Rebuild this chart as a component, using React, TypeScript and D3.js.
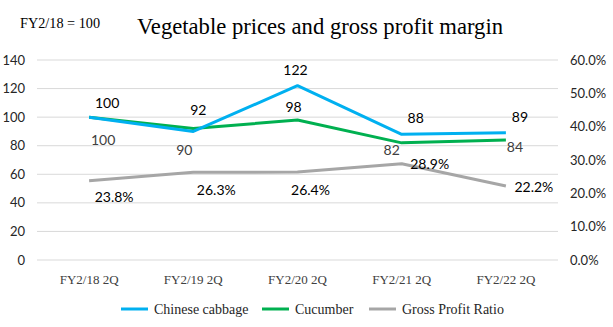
import React from "react";
import * as d3 from "d3";

const categories = ["FY2/18 2Q", "FY2/19 2Q", "FY2/20 2Q", "FY2/21 2Q", "FY2/22 2Q"];
const cabbage = [100, 90, 122, 88, 89];
const cucumber = [100, 92, 98, 82, 84];
const grossProfit = [23.8, 26.3, 26.4, 28.9, 22.2];
const leftTicks = [0, 20, 40, 60, 80, 100, 120, 140];
const rightTicks = [0, 10, 20, 30, 40, 50, 60];

// label placement offsets (layout only)
const cabbageLabelOff = [[14, 23], [-9, 19], [-2, -16], [14, -16], [14, -16]];
const cucumberLabelOff = [[18, -14], [5, -18], [-4, -13], [-10, 7], [9, 7]];
const gpLabelOff = [[25, 16], [23, 18], [13, 18], [28, 0], [28, 1]];

const W = 613, H = 327;
const plotL = 37, plotR = 558, plotT = 60, plotB = 260;

export default function App() {
  const x = d3.scaleBand<string>().domain(categories).range([plotL, plotR]);
  const cx = (i: number) => (x(categories[i]) as number) + x.bandwidth() / 2;
  const yL = d3.scaleLinear().domain([0, 140]).range([plotB, plotT]);
  const yR = d3.scaleLinear().domain([0, 60]).range([plotB, plotT]);

  const lineL = d3.line<number>().x((_, i) => cx(i)).y((d) => yL(d));
  const lineR = d3.line<number>().x((_, i) => cx(i)).y((d) => yR(d));

  const sans = "Lato, Open Sans, Liberation Sans, sans-serif";
  const serif = "Liberation Serif, Times New Roman, serif";

  const legend = [
    { name: "Chinese cabbage", color: "#00B0F0", x: 121 },
    { name: "Cucumber", color: "#00B050", x: 262 },
    { name: "Gross Profit Ratio", color: "#A6A6A6", x: 369 },
  ];

  return (
    <svg width={W} height={H} style={{ position: "absolute", left: 0, top: 0 }}>
      <rect width={W} height={H} fill="#fff" />
      <text x={20} y={28} fontFamily={serif} fontSize={14} textLength={80} lengthAdjust="spacingAndGlyphs" fill="#000">FY2/18 = 100</text>
      <text x={137} y={34} fontFamily={serif} fontSize={23} textLength={366} lengthAdjust="spacingAndGlyphs" fill="#000">Vegetable prices and gross profit margin</text>

      {leftTicks.map((t) => (
        <line key={"g" + t} x1={plotL} x2={plotR} y1={yL(t)} y2={yL(t)} stroke="#d9d9d9" strokeWidth={1} />
      ))}
      {leftTicks.map((t) => (
        <text key={"l" + t} x={25} y={yL(t)} dy="0.35em" textAnchor="end" fontFamily={sans} fontSize={13} fill="#262626">{t}</text>
      ))}
      {rightTicks.map((t) => (
        <text key={"r" + t} x={570} y={yR(t)} dy="0.35em" textAnchor="start" fontFamily={sans} fontSize={13} fill="#262626">{t.toFixed(1) + "%"}</text>
      ))}
      {categories.map((c, i) => (
        <text key={c} x={cx(i)} y={279} dy="0.35em" textAnchor="middle" fontFamily={serif} fontSize={13} fill="#404040">{c}</text>
      ))}

      <path d={lineR(grossProfit) || ""} fill="none" stroke="#A6A6A6" strokeWidth={3} strokeLinejoin="round" />
      <path d={lineL(cucumber) || ""} fill="none" stroke="#00B050" strokeWidth={3} strokeLinejoin="round" />
      <path d={lineL(cabbage) || ""} fill="none" stroke="#00B0F0" strokeWidth={3} strokeLinejoin="round" />

      {cabbage.map((v, i) => (
        <text key={"cb" + i} x={cx(i) + cabbageLabelOff[i][0]} y={yL(v) + cabbageLabelOff[i][1]} dy="0.35em" textAnchor="middle" fontFamily={sans} fontSize={14} fill={cabbageLabelOff[i][1] > 0 ? "#404040" : "#000"}>{v}</text>
      ))}
      {cucumber.map((v, i) => (
        <text key={"cu" + i} x={cx(i) + cucumberLabelOff[i][0]} y={yL(v) + cucumberLabelOff[i][1]} dy="0.35em" textAnchor="middle" fontFamily={sans} fontSize={14} fill={cucumberLabelOff[i][1] > 0 ? "#404040" : "#000"}>{v}</text>
      ))}
      {grossProfit.map((v, i) => (
        <text key={"gp" + i} x={cx(i) + gpLabelOff[i][0]} y={yR(v) + gpLabelOff[i][1]} dy="0.35em" textAnchor="middle" fontFamily={sans} fontSize={14} fill="#000">{v.toFixed(1) + "%"}</text>
      ))}

      {legend.map((l) => (
        <g key={l.name}>
          <line x1={l.x} x2={l.x + 27} y1={309} y2={309} stroke={l.color} strokeWidth={3} />
          <text x={l.x + 33} y={309} dy="0.35em" fontFamily={serif} fontSize={14} fill="#262626">{l.name}</text>
        </g>
      ))}
    </svg>
  );
}
